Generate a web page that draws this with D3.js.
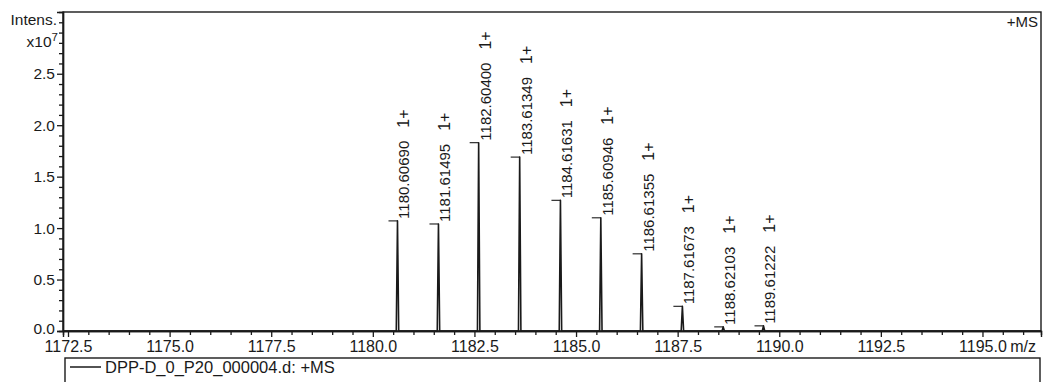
<!DOCTYPE html>
<html>
<head>
<meta charset="utf-8">
<script src="https://cdn.jsdelivr.net/npm/d3@7"></script>
<style>
  html, body { margin: 0; padding: 0; background: #fff; }
  svg { display: block; font-family: "Liberation Sans", Arial, sans-serif; }
</style>
</head>
<body>
<svg id="chart" width="1044" height="382"></svg>
<script>
// Isotope cluster, singly charged ions (m/z, intensity in units of 1e7)
const peakMz = [1180.60690, 1181.61495, 1182.60400, 1183.61349, 1184.61631,
                1185.60946, 1186.61355, 1187.61673, 1188.62103, 1189.61222];
const peakIntensity = [1.07, 1.04, 1.83, 1.69, 1.27, 1.10, 0.75, 0.24, 0.04, 0.05];
const peakCharge = ["1+", "1+", "1+", "1+", "1+", "1+", "1+", "1+", "1+", "1+"];

const xMajorTicks = [1172.5, 1175.0, 1177.5, 1180.0, 1182.5, 1185.0, 1187.5, 1190.0, 1192.5, 1195.0];
const yMajorTicks = [0.0, 0.5, 1.0, 1.5, 2.0, 2.5];
const legendLabel = "DPP-D_0_P20_000004.d: +MS";

const svg = d3.select("#chart");
const ink = "#1a1a1a";

const plotLeft = 63, plotRight = 1041, plotTop = 12, plotBottom = 331;
const x = d3.scaleLinear().domain([1172.377, 1196.44]).range([plotLeft, plotRight]);
const y = d3.scaleLinear().domain([0, 3.1]).range([plotBottom, plotTop]);

// minor ticks every 0.5 m/z and every 0.1 intensity unit
const xMinor = d3.range(1172.5, 1196.4, 0.5).filter(v => !xMajorTicks.some(t => Math.abs(t - v) < 1e-6));
const yMinor = d3.range(0, 3.05, 0.1).map(v => +v.toFixed(1)).filter(v => !yMajorTicks.some(t => Math.abs(t - v) < 1e-6));

// frame
svg.append("rect")
  .attr("x", plotLeft).attr("y", plotTop)
  .attr("width", plotRight - plotLeft).attr("height", plotBottom - plotTop)
  .attr("fill", "none").attr("stroke", ink).attr("stroke-width", 1.4);

// x axis
const gx = svg.append("g").attr("transform", `translate(0,${plotBottom})`);
gx.call(d3.axisBottom(x).tickValues(xMajorTicks).tickSize(6).tickPadding(4)
  .tickFormat(d3.format(".1f")));
gx.append("g").call(d3.axisBottom(x).tickValues(xMinor).tickSize(4).tickFormat(""));
gx.selectAll(".domain").attr("stroke", ink).attr("stroke-width", 1.4);
gx.selectAll(".tick line").attr("stroke", ink).attr("stroke-width", 1.3);
gx.selectAll(".tick text").attr("fill", ink).style("font-size", "16px");

svg.append("text")
  .attr("x", 1036).attr("y", 352)
  .attr("text-anchor", "end")
  .attr("fill", ink).style("font-size", "16px")
  .text("m/z");

// y axis
const gy = svg.append("g").attr("transform", `translate(${plotLeft},0)`);
gy.call(d3.axisLeft(y).tickValues(yMajorTicks).tickSize(6).tickPadding(2)
  .tickFormat(d3.format(".1f")));
gy.append("g").call(d3.axisLeft(y).tickValues(yMinor).tickSize(4).tickFormat(""));
gy.selectAll(".domain").attr("stroke", ink).attr("stroke-width", 1.4);
gy.selectAll(".tick line").attr("stroke", ink).attr("stroke-width", 1.3);
gy.selectAll(".tick text").attr("fill", ink).style("font-size", "15.5px")
  .attr("dy", d => d === 0 ? "0.18em" : "0.32em");

// axis titles
svg.append("text")
  .attr("x", 57).attr("y", 25).attr("text-anchor", "end")
  .attr("fill", ink).style("font-size", "15.5px")
  .text("Intens.");
const exp = svg.append("text")
  .attr("x", 58).attr("y", 47).attr("text-anchor", "end")
  .attr("fill", ink).style("font-size", "15.5px");
exp.append("tspan").text("x10");
exp.append("tspan").attr("dy", -6).style("font-size", "11.5px").text("7");

svg.append("text")
  .attr("x", 1038).attr("y", 27).attr("text-anchor", "end")
  .attr("fill", ink).style("font-size", "15px")
  .text("+MS");

// spectrum profile built from the centroid list
const profile = [[x.domain()[0], 0]];
peakMz.forEach((m, i) => {
  profile.push([m - 0.03, 0], [m, peakIntensity[i]], [m + 0.03, 0]);
});
profile.push([x.domain()[1], 0]);

const line = d3.line().x(d => x(d[0])).y(d => y(d[1]));
svg.append("path")
  .attr("d", line(profile))
  .attr("fill", "none")
  .attr("stroke", ink)
  .attr("stroke-width", 1.6)
  .attr("stroke-linejoin", "round");

// peak annotations
const labels = svg.append("g");
peakMz.forEach((m, i) => {
  const px = x(m), py = y(peakIntensity[i]);
  labels.append("line")
    .attr("x1", px - 9).attr("x2", px)
    .attr("y1", py).attr("y2", py)
    .attr("stroke", ink).attr("stroke-width", 1.1);
  const t = labels.append("text")
    .attr("transform", `translate(${px + 12},${py - 2}) rotate(-90)`)
    .attr("fill", ink)
    .style("font-size", "15px");
  t.append("tspan").text(m.toFixed(5));
  t.append("tspan").attr("dx", 13).style("font-size", "16px").text(peakCharge[i]);
});

// legend
svg.append("rect")
  .attr("x", 65).attr("y", 358)
  .attr("width", 975).attr("height", 40)
  .attr("fill", "none").attr("stroke", ink).attr("stroke-width", 1.4);
svg.append("line")
  .attr("x1", 70).attr("x2", 101).attr("y1", 367).attr("y2", 367)
  .attr("stroke", ink).attr("stroke-width", 1.5);
svg.append("text")
  .attr("x", 105).attr("y", 373)
  .attr("fill", ink).style("font-size", "16.5px")
  .text(legendLabel);
</script>
</body>
</html>
